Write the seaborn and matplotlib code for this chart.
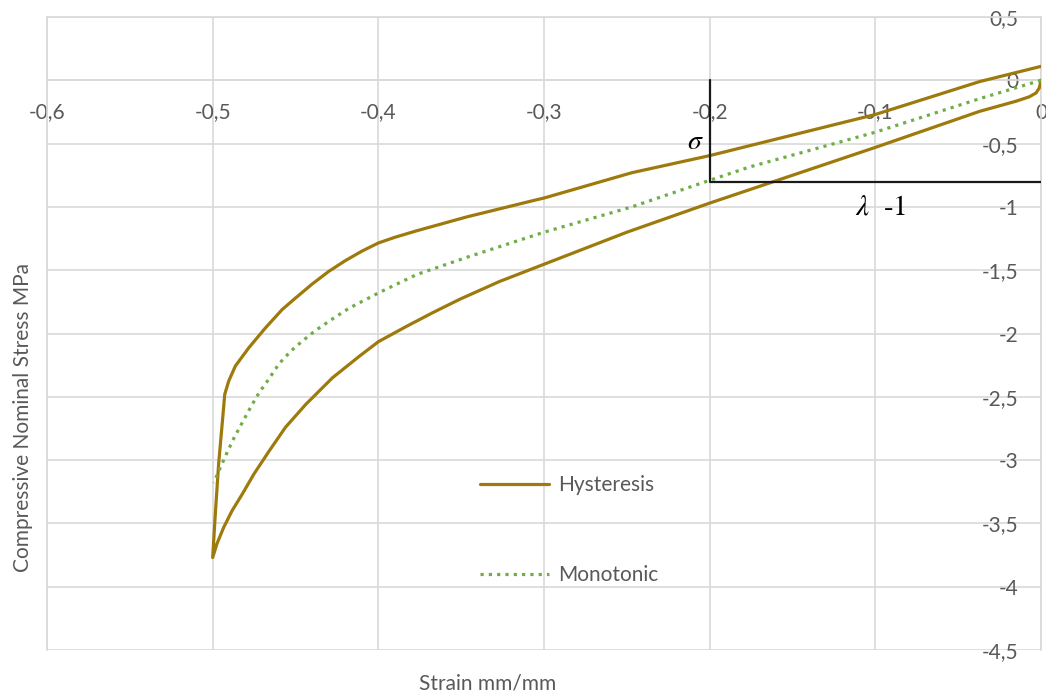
import matplotlib
matplotlib.use("Agg")
import matplotlib.pyplot as plt
import matplotlib.ticker as mticker
import pandas as pd
import seaborn as sns

# Hysteresis loop: loading branch from the origin down to -0.5, then unloading back
hyst_strain = [0.0, -0.001, -0.003, -0.007, -0.015, -0.037, -0.1, -0.15, -0.2,
               -0.25, -0.2994, -0.327, -0.3509, -0.3671, -0.3832, -0.4, -0.4115,
               -0.4277, -0.4438, -0.456, -0.466, -0.4751, -0.4822, -0.4883,
               -0.4933, -0.4974, -0.5,
               -0.4984, -0.4964, -0.4943, -0.4927, -0.4903, -0.4863, -0.4782,
               -0.4681, -0.458, -0.45, -0.44, -0.43, -0.42, -0.41, -0.4, -0.39,
               -0.3772, -0.3469, -0.3065, -0.3, -0.247, -0.2, -0.1, -0.037, 0.0]
hyst_stress = [0.0, -0.06, -0.10, -0.13, -0.165, -0.245, -0.53, -0.75, -0.97,
               -1.20, -1.45, -1.59, -1.73, -1.835, -1.945, -2.065, -2.18,
               -2.35, -2.56, -2.74, -2.93, -3.11, -3.27, -3.40,
               -3.53, -3.66, -3.77,
               -3.425, -3.03, -2.72, -2.48, -2.375, -2.257, -2.113,
               -1.955, -1.81, -1.72, -1.61, -1.51, -1.425, -1.35, -1.285, -1.24,
               -1.19, -1.08, -0.95, -0.93, -0.73, -0.595, -0.27, -0.01, 0.11]

# Monotonic compression curve
mono_strain = [0.0, -0.037, -0.1, -0.176, -0.2, -0.247, -0.3, -0.347, -0.377,
               -0.4, -0.4176, -0.4277, -0.4378, -0.4459, -0.4529, -0.46, -0.4661,
               -0.4721, -0.4772, -0.4822, -0.4873, -0.4913, -0.4954, -0.4994]
mono_stress = [0.0, -0.145, -0.41, -0.685, -0.79, -1.00, -1.20, -1.40, -1.535,
               -1.68, -1.80, -1.885, -1.975, -2.06, -2.14, -2.24, -2.36,
               -2.47, -2.585, -2.705, -2.83, -2.94, -3.06, -3.18]

series_names = ["Hysteresis", "Monotonic"]

# Construction lines marking sigma and lambda-1 at strain -0.2
guide_x = [-0.2, -0.2, 0.0]
guide_y = [0.0, -0.80, -0.80]

x_ticks = [-0.6, -0.5, -0.4, -0.3, -0.2, -0.1, 0.0]
y_ticks = [0.5, 0.0, -0.5, -1.0, -1.5, -2.0, -2.5, -3.0, -3.5, -4.0, -4.5]

GOLD = "#9E7A0C"
GREEN = "#70AD47"
GRID = "#D9D9D9"
TEXT = "#595959"

sns.set_theme(style="white")
plt.rcParams["font.family"] = ["Lato", "DejaVu Sans"]
plt.rcParams["mathtext.fontset"] = "stix"

df = pd.concat([
    pd.DataFrame({"strain": hyst_strain, "stress": hyst_stress,
                  "series": series_names[0]}),
    pd.DataFrame({"strain": mono_strain, "stress": mono_stress,
                  "series": series_names[1]}),
], ignore_index=True)

fig = plt.figure(figsize=(10.46, 6.95), dpi=100)
W, H = 1046, 695
ax = fig.add_axes([47 / W, 1 - 650 / H, (1041 - 47) / W, (650 - 17) / H])

sns.lineplot(data=df, x="strain", y="stress", hue="series", style="series",
             hue_order=series_names, style_order=series_names,
             palette={series_names[0]: GOLD, series_names[1]: GREEN},
             dashes={series_names[0]: "", series_names[1]: (1.0, 1.6)},
             sort=False, estimator=None, linewidth=2.3, ax=ax, zorder=3)
for line in ax.get_lines():
    line.set_solid_joinstyle("round")

ax.plot(guide_x, guide_y, color="#1a1a1a", lw=1.6, zorder=4)

ax.set_xlim(-0.6, 0.0)
ax.set_ylim(-4.5, 0.5)
ax.xaxis.set_major_locator(mticker.FixedLocator(x_ticks))
ax.yaxis.set_major_locator(mticker.FixedLocator(y_ticks))


def comma_fmt(v, pos=None):
    if abs(v) < 1e-9:
        return "0"
    s = f"{v:.1f}".rstrip("0").rstrip(".")
    return s.replace(".", ",")


ax.xaxis.set_major_formatter(mticker.FuncFormatter(comma_fmt))
ax.yaxis.set_major_formatter(mticker.FuncFormatter(comma_fmt))

ax.grid(True, color=GRID, lw=1.2, zorder=0)
ax.set_axisbelow(True)
for side in ["top", "left", "right", "bottom"]:
    ax.spines[side].set_color(GRID)
    ax.spines[side].set_linewidth(1.2)
ax.spines["bottom"].set_position(("data", 0))

ax.tick_params(axis="x", length=0, pad=16, labelsize=15, labelcolor=TEXT)
ax.yaxis.tick_right()
ax.tick_params(axis="y", length=0, pad=-16.5, labelsize=15, labelcolor=TEXT,
               labelright=True, labelleft=False)
plt.setp(ax.yaxis.get_majorticklabels(), ha="right")

ax.set_xlabel("Strain mm/mm", fontsize=15, color=TEXT)
ax.set_ylabel("Compressive Nominal Stress MPa", fontsize=15, color=TEXT)
ax.yaxis.set_label_position("left")
ax.xaxis.set_label_coords((488 - 47) / (1041 - 47), -(683 - 650) / (650 - 17),
                          transform=ax.transAxes)
ax.yaxis.set_label_coords(-(47 - 23) / (1041 - 47), (650 - 417) / (650 - 17),
                          transform=ax.transAxes)
ax.xaxis.label.set_va("center")
ax.yaxis.label.set_va("center")

ax.text(-0.2035, -0.48, r"$\sigma$", fontsize=20, ha="right", va="center",
        color="black", zorder=5)
ax.text(-0.0965, -1.01, r"$\lambda$  -1", fontsize=21, ha="center", va="center",
        color="black", family="STIXGeneral", zorder=5)

handles, labels = ax.get_legend_handles_labels()
ax.legend(handles, labels, loc="upper left",
          bbox_to_anchor=(480 / W, 1 - 475 / H), bbox_transform=fig.transFigure,
          frameon=False, fontsize=15, labelcolor=TEXT, borderpad=0,
          borderaxespad=0, handlelength=3.3, handletextpad=0.45,
          labelspacing=3.35)

fig.savefig("out.png", dpi=100)
